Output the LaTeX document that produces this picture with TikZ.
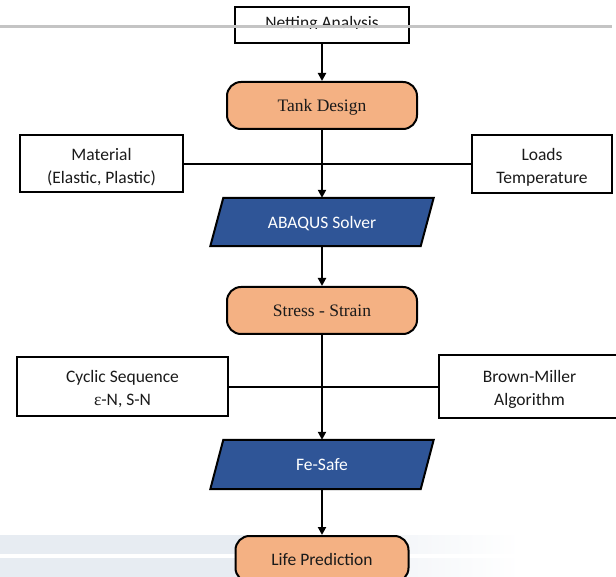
\documentclass[tikz,border=0pt]{standalone}
\usepackage{fontspec}
\setmainfont{Liberation Serif}
\newfontfamily\calibrifont{Carlito}
\usetikzlibrary{arrows.meta,calc,backgrounds}
\definecolor{peach}{HTML}{F4B183}
\definecolor{darkblue}{HTML}{2F5597}
\definecolor{bandc}{HTML}{E7ECF2}
\definecolor{txtc}{HTML}{1A1A1A}
\definecolor{rulec}{HTML}{C4C4C4}
\newcommand\mytopstrut{\rule{0pt}{18pt}}
\begin{document}
\begin{tikzpicture}[x=1pt,y=-1pt,
  outline/.style={draw=black,line width=2pt},
  sanstext/.style={font=\calibrifont\fontsize{17.5}{23}\selectfont},
  plainbox/.style={outline,fill=white,rectangle,align=center,sanstext,text=txtc,inner sep=0pt},
  roundbox/.style={outline,fill=peach,rounded corners=14pt,rectangle,minimum width=190pt,minimum height=47pt,text=txtc,inner sep=0pt,text depth=0pt},
  seriftext/.style={font=\rmfamily\fontsize{17.5}{20}\selectfont},
  paranode/.style={rectangle,minimum width=210pt,minimum height=48pt,text=white,sanstext,inner sep=0pt,text depth=0pt},
  parashape/.style={draw=black,line width=2pt,fill=darkblue},
  flow/.style={line width=2pt,-{Triangle[length=8pt,width=8pt]}},
  link/.style={line width=2pt}]
\useasboundingbox (0,0) rectangle (616,577);
\clip (0,0) rectangle (616,577);

% nodes
\node[plainbox,minimum width=174pt,minimum height=36pt] (netting) at (322,25) {};
\begin{scope}
  \clip (200,0) rectangle (450,29);
  \node[sanstext,text=txtc,inner sep=0pt] (nettinglabel) at (322,24) {Netting Analysis};
\end{scope}
\draw[rulec,line width=3pt] (0,27) -- (612,27);

\node[roundbox,seriftext] (tank) at (322,105.5) {Tank Design};
\node[plainbox,minimum width=163pt,minimum height=57pt] (material) at (101.5,164) {\mytopstrut Material\\(Elastic, Plastic)};
\node[plainbox,minimum width=140pt,minimum height=58pt] (loads) at (542,164) {\mytopstrut Loads\\Temperature};
\node[paranode] (abaqus) at (322,222) {ABAQUS Solver};
\node[roundbox,seriftext] (stress) at (322,310.5) {Stress - Strain};
\node[plainbox,minimum width=211pt,minimum height=59pt] (cyclic) at (122.5,386.5) {\mytopstrut Cyclic Sequence\\{\rmfamily ε}-N, S-N};
\node[plainbox,minimum width=181pt,minimum height=63pt] (brown) at (529.5,386.5) {\mytopstrut Brown-Miller\\Algorithm};
\node[paranode,minimum height=49pt] (fesafe) at (322,464.5) {Fe-Safe};
\node[roundbox,sanstext,minimum width=173pt,minimum height=46pt] (life) at (322,559) {Life Prediction};

% connectors
\draw[flow] (netting.south) -- (tank.north);
\draw[flow] (tank.south) -- (abaqus.north);
\draw[link] (material.east) -- (loads.west);
\draw[flow] (abaqus.south) -- (stress.north);
\draw[flow] (stress.south) -- (fesafe.north);
\draw[link] (cyclic.east) -- (brown.west);
\draw[flow] (fesafe.south) -- (life.north);

\begin{scope}[on background layer]
  \shade[left color=bandc,right color=white,middle color=bandc] (0,535) rectangle (520,553);
  \shade[left color=bandc,right color=white,middle color=bandc] (0,558) rectangle (520,577);
  \draw[parashape] ($(abaqus.north west)+(6.5,0)$) -- ($(abaqus.north east)+(6.5,0)$)
     -- ($(abaqus.south east)-(6.5,0)$) -- ($(abaqus.south west)-(6.5,0)$) -- cycle;
  \draw[parashape] ($(fesafe.north west)+(6.5,0)$) -- ($(fesafe.north east)+(6.5,0)$)
     -- ($(fesafe.south east)-(6.5,0)$) -- ($(fesafe.south west)-(6.5,0)$) -- cycle;
\end{scope}
\end{tikzpicture}
\end{document}
